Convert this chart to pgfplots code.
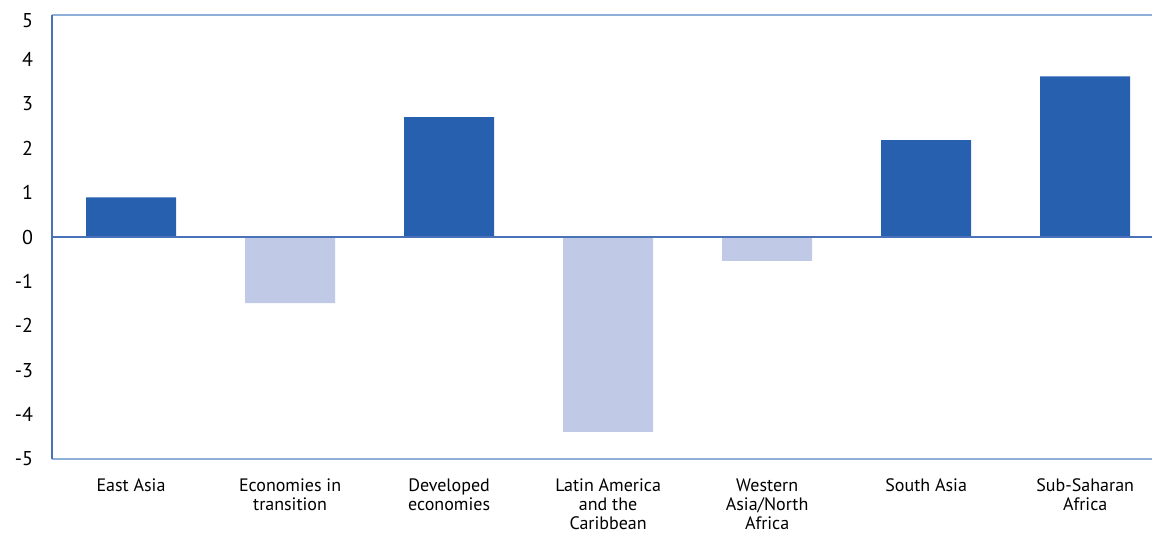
\documentclass[border=0pt]{standalone}
\usepackage{pgfplots}
\pgfplotsset{compat=1.18}
\usepackage{fontspec}
\setmainfont{PT Sans}
\usetikzlibrary{calc}
\definecolor{darkbar}{HTML}{2660AE}
\definecolor{lightbar}{HTML}{C0C9E6}
\definecolor{frametop}{HTML}{8FAFD8}
\definecolor{frameleft}{HTML}{4A72B8}
\definecolor{zeroline}{HTML}{4A72B8}
\begin{document}
\begin{tikzpicture}
\begin{axis}[
  scale only axis,
  width=550pt, height=222pt,
  xmin=-0.497, xmax=6.42,
  ymin=-5, ymax=5,
  ytick={-5,-4,-3,-2,-1,0,1,2,3,4},
  yticklabels={-5,-4,-3,-2,-1,0,1,2,3,4},
  extra y ticks={5},
  extra y tick labels={5},
  extra y tick style={yticklabel style={yshift=-3pt}},
  xtick={0,1,2,3,4,5,6},
  xticklabels={East Asia, Economies in\\transition, Developed\\economies, Latin America\\and the\\Caribbean, Western\\Asia/North\\Africa, South Asia, Sub-Saharan\\Africa},
  xticklabel style={align=center, font=\fontsize{9}{9.5}\selectfont, yshift=-6.5pt},
  yticklabel style={font=\fontsize{10}{12}\selectfont, xshift=-6pt},
  major tick length=0pt,
  axis line style={draw=none},
  ybar, bar width=45pt,
  clip=false,
]
\addplot[fill=darkbar, draw=none, bar shift=0pt] coordinates {(0,0.89) (2,2.70) (5,2.18) (6,3.62)};
\addplot[fill=lightbar, draw=none, bar shift=0pt] coordinates {(1,-1.49) (3,-4.39) (4,-0.54)};
\draw[frametop, line width=1.2pt] (rel axis cs:0,1) -- (rel axis cs:1,1);
\draw[frametop, line width=1.2pt] (rel axis cs:0,0) -- (rel axis cs:1,0);
\draw[frameleft, line width=0.6pt] (rel axis cs:0,0) -- (rel axis cs:0,1);
\draw[zeroline, line width=0.6pt] (rel axis cs:0,0.5) -- (rel axis cs:1,0.5);
\end{axis}
\pgfresetboundingbox
\path[use as bounding box] ($(current axis.south west)+(-26pt,-36.5pt)$) rectangle ($(current axis.north east)+(0.5pt,7.5pt)$);
\end{tikzpicture}
\end{document}
